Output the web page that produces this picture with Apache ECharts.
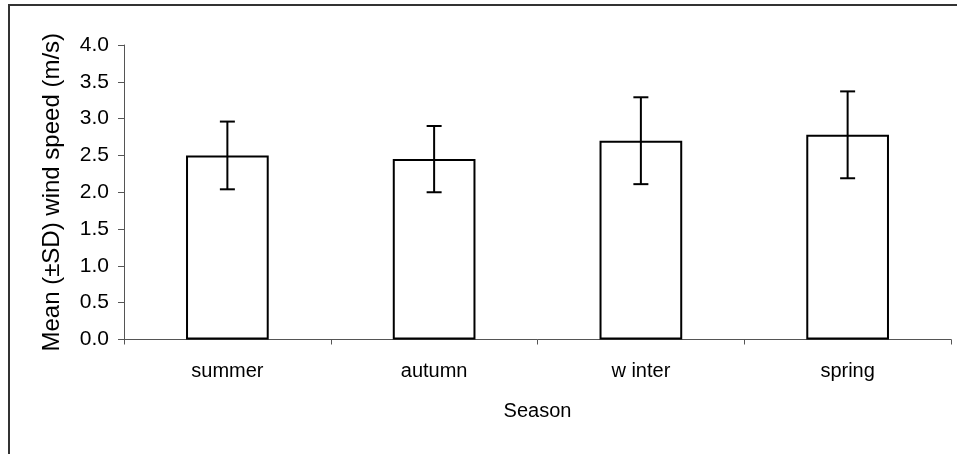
<!DOCTYPE html>
<html>
<head>
<meta charset="utf-8">
<script src="https://cdn.jsdelivr.net/npm/echarts@6/dist/echarts.min.js"></script>
<style>
  html, body { margin: 0; padding: 0; background: #fff; }
  #chart { width: 957px; height: 454px; }
</style>
</head>
<body>
<div id="chart"></div>
<script>
// Seasonal mean wind speed with ±1 SD
const seasons = ['summer', 'autumn', 'w inter', 'spring'];
const meanSpeed = [2.50, 2.45, 2.70, 2.78];
const sdSpeed = [0.46, 0.45, 0.59, 0.59];
const yTicks = [0, 0.5, 1.0, 1.5, 2.0, 2.5, 3.0, 3.5, 4.0];

const FONT = '"Liberation Sans", Arial, sans-serif';

const errorData = meanSpeed.map((m, i) => [i, m - sdSpeed[i], m + sdSpeed[i]]);

const chart = echarts.init(document.getElementById('chart'), null, { renderer: 'canvas' });

chart.setOption({
  animation: false,
  backgroundColor: '#fff',
  textStyle: { fontFamily: FONT },
  graphic: [{
    type: 'rect',
    shape: { x: 9, y: 5, width: 1200, height: 1000 },
    style: { fill: 'none', stroke: '#333', lineWidth: 2 },
    silent: true
  }],
  grid: { left: 124, right: 6, top: 45, bottom: 114.5 },
  xAxis: {
    type: 'category',
    data: seasons,
    name: 'Season',
    nameLocation: 'middle',
    nameGap: 62,
    nameTextStyle: { fontSize: 20, color: '#000', fontFamily: FONT },
    axisLine: { lineStyle: { color: '#555', width: 1 } },
    axisTick: { show: true, length: 5, alignWithLabel: false, lineStyle: { color: '#555' } },
    axisLabel: { fontSize: 20, color: '#000', margin: 22, fontFamily: FONT }
  },
  yAxis: {
    type: 'value',
    min: yTicks[0],
    max: yTicks[yTicks.length - 1],
    interval: 0.5,
    name: 'Mean (±SD) wind speed (m/s)',
    nameLocation: 'middle',
    nameGap: 60,
    nameTextStyle: { fontSize: 24, color: '#000', fontFamily: FONT },
    splitLine: { show: false },
    axisLine: { show: true, lineStyle: { color: '#555', width: 1 } },
    axisTick: { show: true, length: 6, lineStyle: { color: '#555' } },
    axisLabel: {
      fontSize: 21, color: '#000', margin: 15, fontFamily: FONT,
      formatter: v => v.toFixed(1)
    }
  },
  series: [
    {
      type: 'bar',
      data: meanSpeed,
      barWidth: '40%',
      itemStyle: { color: '#fff', borderColor: '#000', borderWidth: 2 },
      z: 2
    },
    {
      type: 'custom',
      data: errorData,
      z: 3,
      renderItem: function (params, api) {
        const idx = api.value(0);
        const lo = api.coord([idx, api.value(1)]);
        const hi = api.coord([idx, api.value(2)]);
        const half = 7.5;
        const style = { stroke: '#000', lineWidth: 2 };
        return {
          type: 'group',
          children: [
            { type: 'line', shape: { x1: hi[0], y1: hi[1], x2: lo[0], y2: lo[1] }, style },
            { type: 'line', shape: { x1: hi[0] - half, y1: hi[1], x2: hi[0] + half, y2: hi[1] }, style },
            { type: 'line', shape: { x1: lo[0] - half, y1: lo[1], x2: lo[0] + half, y2: lo[1] }, style }
          ]
        };
      }
    }
  ]
});
</script>
</body>
</html>
